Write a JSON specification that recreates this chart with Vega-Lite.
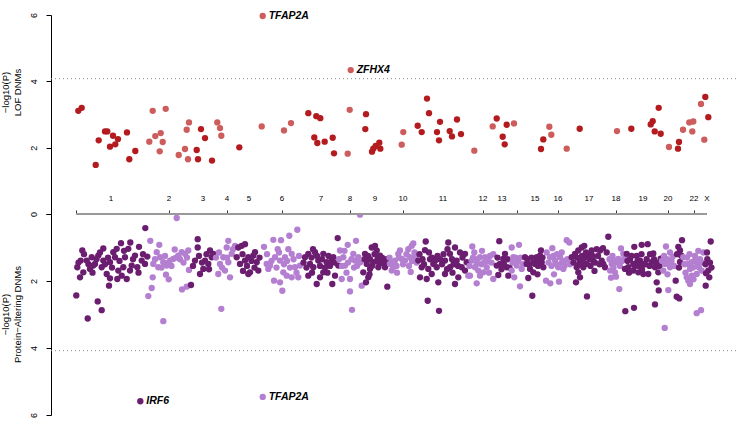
{
  "$schema": "https://vega.github.io/schema/vega-lite/v6.json",
  "padding": {"left": 0, "top": 10, "right": 0, "bottom": 0},
  "bounds": "flush",
  "spacing": 0,
  "config": {
    "view": {"stroke": null},
    "font": "Liberation Sans",
    "axis": {"grid": false, "labelColor": "#000", "titleColor": "#000", "domainColor": "#000", "tickColor": "#000", "titleFontWeight": "normal", "labelFont": "Liberation Sans", "titleFont": "Liberation Sans"}
  },
  "resolve": {"scale": {"x": "independent", "y": "independent", "color": "independent"}},
  "datasets": {
    "threshold": [{"thr": 4.08}],
    "chrline": [{"start": 76, "end": 707, "base": 0}],
    "chroms": [
      {"chr":"1","mid":111},{"chr":"2","mid":169},{"chr":"3","mid":203},{"chr":"4","mid":227},{"chr":"5","mid":249},{"chr":"6","mid":282},{"chr":"7","mid":321},{"chr":"8","mid":350},{"chr":"9","mid":375},{"chr":"10","mid":403},{"chr":"11","mid":443},{"chr":"12","mid":483},{"chr":"13","mid":502},{"chr":"15","mid":535},{"chr":"16","mid":558},{"chr":"17","mid":589},{"chr":"18","mid":616},{"chr":"19","mid":643},{"chr":"20","mid":668},{"chr":"22","mid":694},{"chr":"X","mid":707}
    ],
    "lof": [
      {"pos":78.3,"p":3.11,"s":"d"},{"pos":81.7,"p":3.20,"s":"d"},{"pos":95.7,"p":1.48,"s":"d"},{"pos":98.7,"p":2.22,"s":"d"},{"pos":105,"p":2.49,"s":"d"},{"pos":107.3,"p":2.49,"s":"d"},{"pos":110,"p":2.03,"s":"d"},{"pos":113,"p":2.36,"s":"d"},{"pos":115.3,"p":2.10,"s":"d"},{"pos":118,"p":2.26,"s":"d"},{"pos":127,"p":2.46,"s":"d"},{"pos":129.3,"p":1.65,"s":"d"},{"pos":135.3,"p":1.90,"s":"d"},
      {"pos":149.3,"p":2.18,"s":"l"},{"pos":152.7,"p":3.11,"s":"l"},{"pos":155.3,"p":2.35,"s":"l"},{"pos":159.7,"p":1.89,"s":"l"},{"pos":160.7,"p":2.44,"s":"l"},{"pos":162.7,"p":2.17,"s":"l"},{"pos":165.7,"p":3.17,"s":"l"},{"pos":178.7,"p":1.78,"s":"l"},{"pos":185,"p":1.96,"s":"l"},{"pos":186.7,"p":2.54,"s":"l"},{"pos":188,"p":1.65,"s":"l"},{"pos":189,"p":2.76,"s":"l"},
      {"pos":196.7,"p":1.93,"s":"d"},{"pos":198,"p":1.65,"s":"d"},{"pos":201,"p":2.56,"s":"d"},{"pos":205,"p":2.29,"s":"d"},{"pos":212,"p":1.61,"s":"d"},
      {"pos":217.3,"p":2.76,"s":"l"},{"pos":220,"p":2.59,"s":"l"},{"pos":221.3,"p":2.36,"s":"l"},
      {"pos":239.3,"p":2.01,"s":"d"},
      {"pos":262.7,"p":5.97,"s":"l","gene":"TFAP2A"},{"pos":261.7,"p":2.64,"s":"l"},{"pos":284,"p":2.52,"s":"l"},{"pos":291,"p":2.74,"s":"l"},
      {"pos":308.3,"p":3.04,"s":"d"},{"pos":314.3,"p":2.31,"s":"d"},{"pos":316.3,"p":2.95,"s":"d"},{"pos":317.3,"p":2.14,"s":"d"},{"pos":320.3,"p":2.89,"s":"d"},{"pos":324.7,"p":2.18,"s":"d"},{"pos":332.7,"p":2.30,"s":"d"},{"pos":334,"p":1.83,"s":"d"},
      {"pos":347.7,"p":1.82,"s":"l"},{"pos":349.7,"p":3.14,"s":"l"},{"pos":350.7,"p":4.34,"s":"l","gene":"ZFHX4"},
      {"pos":365.3,"p":2.56,"s":"d"},{"pos":366,"p":3.01,"s":"d"},{"pos":372,"p":1.88,"s":"d"},{"pos":373.3,"p":1.97,"s":"d"},{"pos":375.7,"p":2.05,"s":"d"},{"pos":379.3,"p":2.15,"s":"d"},{"pos":380.3,"p":1.97,"s":"d"},
      {"pos":401.7,"p":2.09,"s":"l"},{"pos":403.3,"p":2.47,"s":"l"},
      {"pos":417.7,"p":2.66,"s":"d"},{"pos":421.7,"p":2.47,"s":"d"},{"pos":427,"p":3.48,"s":"d"},{"pos":429,"p":3.04,"s":"d"},{"pos":437,"p":2.47,"s":"d"},{"pos":439,"p":2.22,"s":"d"},{"pos":440,"p":2.78,"s":"d"},{"pos":449.7,"p":2.50,"s":"d"},{"pos":452,"p":2.34,"s":"d"},{"pos":457,"p":2.85,"s":"d"},{"pos":461,"p":2.41,"s":"d"},
      {"pos":474.3,"p":1.91,"s":"l"},{"pos":492.7,"p":2.64,"s":"l"},
      {"pos":496.7,"p":2.88,"s":"d"},{"pos":502.7,"p":2.33,"s":"d"},{"pos":504.7,"p":2.10,"s":"d"},{"pos":506.7,"p":2.69,"s":"d"},
      {"pos":514,"p":2.73,"s":"l"},
      {"pos":541,"p":1.96,"s":"d"},{"pos":543.3,"p":2.25,"s":"d"},
      {"pos":549.3,"p":2.63,"s":"l"},{"pos":551.3,"p":2.39,"s":"l"},{"pos":566.7,"p":1.97,"s":"l"},
      {"pos":579.7,"p":2.57,"s":"d"},
      {"pos":617,"p":2.50,"s":"l"},
      {"pos":631.3,"p":2.57,"s":"d"},{"pos":650.7,"p":2.70,"s":"d"},{"pos":652.7,"p":2.80,"s":"d"},{"pos":654.7,"p":2.49,"s":"d"},{"pos":658.7,"p":3.20,"s":"d"},{"pos":660.7,"p":2.42,"s":"d"},
      {"pos":669,"p":2.02,"s":"l"},
      {"pos":678,"p":1.97,"s":"d"},{"pos":679,"p":2.17,"s":"d"},
      {"pos":683,"p":2.54,"s":"l"},{"pos":689.3,"p":2.76,"s":"l"},{"pos":693.3,"p":2.79,"s":"l"},{"pos":692.3,"p":2.49,"s":"l"},{"pos":701,"p":3.32,"s":"l"},{"pos":704.3,"p":2.24,"s":"l"},
      {"pos":705.3,"p":3.53,"s":"d"},{"pos":708.3,"p":2.92,"s":"d"}
    ],
    "pa": [
      {"pos":145.3,"p":0.42,"s":"d"},{"pos":76.3,"p":2.43,"s":"d"},{"pos":97.7,"p":2.61,"s":"d"},{"pos":101.7,"p":2.87,"s":"d"},{"pos":87.7,"p":3.12,"s":"d"},{"pos":109,"p":2.14,"s":"d"},{"pos":82.3,"p":1.09,"s":"d"},{"pos":103.3,"p":1.03,"s":"d"},{"pos":121,"p":0.87,"s":"d"},{"pos":130.3,"p":0.85,"s":"d"},{"pos":139,"p":0.98,"s":"d"},{"pos":77.3,"p":1.59,"s":"d"},{"pos":80,"p":1.89,"s":"d"},{"pos":83.3,"p":1.74,"s":"d"},{"pos":86.7,"p":1.39,"s":"d"},{"pos":91.7,"p":1.29,"s":"d"},{"pos":95,"p":1.49,"s":"d"},{"pos":98.3,"p":1.24,"s":"d"},{"pos":101.7,"p":1.59,"s":"d"},{"pos":106.7,"p":1.79,"s":"d"},{"pos":110,"p":1.44,"s":"d"},{"pos":113.3,"p":1.14,"s":"d"},{"pos":115,"p":1.29,"s":"d"},{"pos":118.3,"p":1.69,"s":"d"},{"pos":121.7,"p":1.84,"s":"d"},{"pos":125,"p":1.29,"s":"d"},{"pos":126.7,"p":1.94,"s":"d"},{"pos":128.3,"p":1.04,"s":"d"},{"pos":131.7,"p":1.54,"s":"d"},{"pos":135,"p":1.24,"s":"d"},{"pos":137.3,"p":1.59,"s":"d"},{"pos":141.7,"p":1.39,"s":"d"},{"pos":145,"p":1.49,"s":"d"},{"pos":147.3,"p":1.27,"s":"d"},{"pos":116.7,"p":1.04,"s":"d"},{"pos":93.3,"p":1.54,"s":"d"},{"pos":80.7,"p":1.39,"s":"d"},{"pos":90,"p":1.64,"s":"d"},{"pos":103.3,"p":1.39,"s":"d"},{"pos":123.3,"p":1.59,"s":"d"},{"pos":130,"p":1.69,"s":"d"},{"pos":110,"p":1.92,"s":"d"},{"pos":117.3,"p":1.94,"s":"d"},
      {"pos":78.5,"p":1.45,"s":"d"},{"pos":84,"p":1.2,"s":"d"},{"pos":88.5,"p":1.5,"s":"d"},{"pos":92.5,"p":1.75,"s":"d"},{"pos":96.5,"p":1.35,"s":"d"},{"pos":100,"p":1.15,"s":"d"},{"pos":105,"p":1.5,"s":"d"},{"pos":108,"p":1.3,"s":"d"},{"pos":112,"p":1.6,"s":"d"},{"pos":119.5,"p":1.4,"s":"d"},{"pos":124,"p":1.1,"s":"d"},{"pos":133,"p":1.35,"s":"d"},{"pos":138.5,"p":1.75,"s":"d"},{"pos":143,"p":1.2,"s":"d"},
      {"pos":140.3,"p":5.59,"s":"d","gene":"IRF6"},
      {"pos":176.7,"p":0.12,"s":"l"},{"pos":150.3,"p":0.8,"s":"l"},{"pos":159.3,"p":0.92,"s":"l"},{"pos":174.7,"p":1.06,"s":"l"},{"pos":153.3,"p":1.49,"s":"l"},{"pos":158.3,"p":1.59,"s":"l"},{"pos":163.3,"p":1.44,"s":"l"},{"pos":166.7,"p":1.54,"s":"l"},{"pos":170,"p":1.39,"s":"l"},{"pos":173.3,"p":1.34,"s":"l"},{"pos":178.3,"p":1.24,"s":"l"},{"pos":181.7,"p":1.14,"s":"l"},{"pos":185,"p":1.19,"s":"l"},{"pos":188.3,"p":1.09,"s":"l"},{"pos":152.7,"p":1.89,"s":"l"},{"pos":151.7,"p":2.21,"s":"l"},{"pos":148.3,"p":2.45,"s":"l"},{"pos":166,"p":1.81,"s":"l"},{"pos":168.7,"p":1.95,"s":"l"},{"pos":163.3,"p":3.2,"s":"l"},{"pos":182,"p":2.25,"s":"l"},{"pos":186.7,"p":2.17,"s":"l"},{"pos":189,"p":1.67,"s":"l"},{"pos":160,"p":1.29,"s":"l"},{"pos":156.7,"p":1.14,"s":"l"},
      {"pos":155,"p":1.35,"s":"l"},{"pos":161.5,"p":1.6,"s":"l"},{"pos":165,"p":1.25,"s":"l"},{"pos":168.5,"p":1.45,"s":"l"},{"pos":171.5,"p":1.55,"s":"l"},{"pos":176,"p":1.3,"s":"l"},{"pos":180,"p":1.35,"s":"l"},{"pos":183.5,"p":1.45,"s":"l"},{"pos":187,"p":1.3,"s":"l"},
      {"pos":191,"p":2.12,"s":"d"},{"pos":197.7,"p":0.75,"s":"d"},{"pos":197.7,"p":1.0,"s":"d"},{"pos":195,"p":1.39,"s":"d"},{"pos":200,"p":1.79,"s":"d"},{"pos":203.3,"p":1.64,"s":"d"},{"pos":208.3,"p":1.49,"s":"d"},{"pos":210,"p":1.09,"s":"d"},{"pos":211.7,"p":1.29,"s":"d"},{"pos":213.3,"p":1.19,"s":"d"},{"pos":205,"p":1.39,"s":"d"},
      {"pos":193,"p":1.55,"s":"d"},{"pos":199,"p":1.25,"s":"d"},{"pos":202,"p":1.45,"s":"d"},{"pos":206.5,"p":1.2,"s":"d"},{"pos":209,"p":1.65,"s":"d"},
      {"pos":228.3,"p":0.8,"s":"l"},{"pos":226.7,"p":1.0,"s":"l"},{"pos":223.3,"p":1.29,"s":"l"},{"pos":220,"p":1.49,"s":"l"},{"pos":218.3,"p":1.79,"s":"l"},{"pos":225,"p":1.69,"s":"l"},{"pos":230,"p":1.89,"s":"l"},{"pos":231.7,"p":1.19,"s":"l"},{"pos":235,"p":0.95,"s":"l"},{"pos":221.3,"p":2.83,"s":"l"},{"pos":228.3,"p":1.44,"s":"l"},
      {"pos":216,"p":1.3,"s":"l"},{"pos":219,"p":1.15,"s":"l"},{"pos":222,"p":1.6,"s":"l"},{"pos":227,"p":1.3,"s":"l"},{"pos":233,"p":1.05,"s":"l"},
      {"pos":236.7,"p":1.29,"s":"d"},{"pos":238.3,"p":1.0,"s":"d"},{"pos":241.7,"p":0.95,"s":"d"},{"pos":245,"p":0.9,"s":"d"},{"pos":240,"p":1.49,"s":"d"},{"pos":245,"p":1.39,"s":"d"},{"pos":248.3,"p":1.29,"s":"d"},{"pos":250,"p":1.74,"s":"d"},{"pos":253.3,"p":1.24,"s":"d"},{"pos":256.7,"p":1.44,"s":"d"},{"pos":258.3,"p":1.69,"s":"d"},{"pos":248.3,"p":1.79,"s":"d"},{"pos":255,"p":1.14,"s":"d"},
      {"pos":242.5,"p":1.2,"s":"d"},{"pos":247,"p":1.55,"s":"d"},{"pos":251.5,"p":1.4,"s":"d"},{"pos":254.5,"p":1.6,"s":"d"},{"pos":259.5,"p":1.3,"s":"d"},{"pos":243,"p":1.7,"s":"d"},
      {"pos":264,"p":0.98,"s":"l"},{"pos":266.7,"p":1.49,"s":"l"},{"pos":268.3,"p":1.64,"s":"l"},{"pos":273.3,"p":0.77,"s":"l"},{"pos":281,"p":0.78,"s":"l"},{"pos":289.3,"p":0.65,"s":"l"},{"pos":297.3,"p":0.47,"s":"l"},{"pos":277.7,"p":1.05,"s":"l"},{"pos":288.3,"p":1.05,"s":"l"},{"pos":275,"p":1.29,"s":"l"},{"pos":280,"p":1.39,"s":"l"},{"pos":285,"p":1.29,"s":"l"},{"pos":291.7,"p":1.19,"s":"l"},{"pos":283.3,"p":1.74,"s":"l"},{"pos":286.7,"p":1.84,"s":"l"},{"pos":291.7,"p":1.89,"s":"l"},{"pos":298.3,"p":1.89,"s":"l"},{"pos":274,"p":1.99,"s":"l"},{"pos":280,"p":2.04,"s":"l"},{"pos":282.3,"p":2.29,"s":"l"},{"pos":295,"p":1.59,"s":"l"},{"pos":300,"p":1.54,"s":"l"},{"pos":270,"p":1.54,"s":"l"},
      {"pos":267,"p":1.2,"s":"l"},{"pos":271.5,"p":1.4,"s":"l"},{"pos":276.5,"p":1.6,"s":"l"},{"pos":279,"p":1.15,"s":"l"},{"pos":284,"p":1.5,"s":"l"},{"pos":287,"p":1.4,"s":"l"},{"pos":290,"p":1.6,"s":"l"},{"pos":293.5,"p":1.35,"s":"l"},{"pos":296.5,"p":1.75,"s":"l"},{"pos":299,"p":1.25,"s":"l"},
      {"pos":262.7,"p":5.46,"s":"l","gene":"TFAP2A"},
      {"pos":305,"p":1.29,"s":"d"},{"pos":310,"p":1.49,"s":"d"},{"pos":308.3,"p":1.19,"s":"d"},{"pos":315,"p":1.14,"s":"d"},{"pos":318.3,"p":1.39,"s":"d"},{"pos":323.3,"p":1.19,"s":"d"},{"pos":326.7,"p":1.44,"s":"d"},{"pos":313.3,"p":1.59,"s":"d"},{"pos":308.3,"p":1.84,"s":"d"},{"pos":320,"p":1.89,"s":"d"},{"pos":316.7,"p":2.09,"s":"d"},{"pos":323.3,"p":1.74,"s":"d"},{"pos":331.7,"p":1.39,"s":"d"},{"pos":332.3,"p":2.09,"s":"d"},{"pos":333.3,"p":1.29,"s":"d"},{"pos":338.3,"p":1.54,"s":"d"},{"pos":337.7,"p":0.72,"s":"d"},{"pos":335,"p":1.84,"s":"d"},
      {"pos":303.5,"p":1.45,"s":"d"},{"pos":306.5,"p":1.6,"s":"d"},{"pos":311.5,"p":1.3,"s":"d"},{"pos":313,"p":1.05,"s":"d"},{"pos":317,"p":1.25,"s":"d"},{"pos":320,"p":1.55,"s":"d"},{"pos":322,"p":1.35,"s":"d"},{"pos":325,"p":1.6,"s":"d"},{"pos":328.5,"p":1.25,"s":"d"},{"pos":330,"p":1.55,"s":"d"},{"pos":334.5,"p":1.45,"s":"d"},{"pos":327.5,"p":1.75,"s":"d"},{"pos":312,"p":1.75,"s":"d"},
      {"pos":360,"p":0.02,"s":"l"},{"pos":356,"p":0.8,"s":"l"},{"pos":347.7,"p":0.92,"s":"l"},{"pos":340,"p":1.09,"s":"l"},{"pos":343.3,"p":1.29,"s":"l"},{"pos":345,"p":1.54,"s":"l"},{"pos":353.3,"p":1.19,"s":"l"},{"pos":355,"p":1.39,"s":"l"},{"pos":358.3,"p":1.29,"s":"l"},{"pos":350,"p":1.94,"s":"l"},{"pos":341.7,"p":1.94,"s":"l"},{"pos":350,"p":2.31,"s":"l"},{"pos":361.7,"p":2.14,"s":"l"},{"pos":352,"p":2.86,"s":"l"},
      {"pos":339,"p":1.35,"s":"l"},{"pos":342,"p":1.55,"s":"l"},{"pos":344.5,"p":1.1,"s":"l"},{"pos":348,"p":1.45,"s":"l"},{"pos":351.5,"p":1.35,"s":"l"},{"pos":354,"p":1.6,"s":"l"},{"pos":357,"p":1.55,"s":"l"},{"pos":360,"p":1.45,"s":"l"},{"pos":346.5,"p":1.75,"s":"l"},
      {"pos":365,"p":1.19,"s":"d"},{"pos":366.7,"p":1.49,"s":"d"},{"pos":363.3,"p":1.74,"s":"d"},{"pos":368.3,"p":1.89,"s":"d"},{"pos":366,"p":2.04,"s":"d"},{"pos":371.7,"p":1.0,"s":"d"},{"pos":375,"p":0.95,"s":"d"},{"pos":376.7,"p":1.09,"s":"d"},{"pos":380,"p":1.24,"s":"d"},{"pos":383.3,"p":1.39,"s":"d"},{"pos":373.3,"p":1.44,"s":"d"},{"pos":378.3,"p":1.59,"s":"d"},{"pos":385,"p":1.59,"s":"d"},{"pos":387.3,"p":2.17,"s":"d"},{"pos":370,"p":1.64,"s":"d"},{"pos":381.7,"p":1.44,"s":"d"},
      {"pos":364.5,"p":1.35,"s":"d"},{"pos":368,"p":1.25,"s":"d"},{"pos":370,"p":1.35,"s":"d"},{"pos":372,"p":1.55,"s":"d"},{"pos":374.5,"p":1.2,"s":"d"},{"pos":377.5,"p":1.35,"s":"d"},{"pos":379,"p":1.45,"s":"d"},{"pos":382,"p":1.3,"s":"d"},{"pos":384,"p":1.5,"s":"d"},{"pos":386.5,"p":1.35,"s":"d"},{"pos":369.5,"p":1.8,"s":"d"},
      {"pos":390,"p":1.49,"s":"l"},{"pos":391.7,"p":1.69,"s":"l"},{"pos":395,"p":1.39,"s":"l"},{"pos":398.3,"p":1.19,"s":"l"},{"pos":400,"p":1.09,"s":"l"},{"pos":401.7,"p":1.34,"s":"l"},{"pos":408.3,"p":1.05,"s":"l"},{"pos":411.7,"p":0.95,"s":"l"},{"pos":413.3,"p":0.88,"s":"l"},{"pos":405,"p":1.39,"s":"l"},{"pos":410,"p":1.29,"s":"l"},{"pos":415,"p":1.29,"s":"l"},{"pos":410.7,"p":1.73,"s":"l"},{"pos":393.3,"p":1.59,"s":"l"},
      {"pos":389.5,"p":1.3,"s":"l"},{"pos":392.5,"p":1.45,"s":"l"},{"pos":396.5,"p":1.55,"s":"l"},{"pos":399,"p":1.3,"s":"l"},{"pos":403,"p":1.5,"s":"l"},{"pos":406.5,"p":1.2,"s":"l"},{"pos":409,"p":1.55,"s":"l"},{"pos":412,"p":1.4,"s":"l"},{"pos":414.5,"p":1.15,"s":"l"},{"pos":416.5,"p":1.45,"s":"l"},{"pos":397,"p":1.75,"s":"l"},
      {"pos":425.7,"p":0.82,"s":"d"},{"pos":425,"p":1.08,"s":"d"},{"pos":418.3,"p":1.39,"s":"d"},{"pos":421.7,"p":1.59,"s":"d"},{"pos":420,"p":1.89,"s":"d"},{"pos":426.7,"p":1.94,"s":"d"},{"pos":430,"p":1.35,"s":"d"},{"pos":433.3,"p":1.49,"s":"d"},{"pos":428.3,"p":1.64,"s":"d"},{"pos":431.7,"p":1.79,"s":"d"},{"pos":438.3,"p":2.04,"s":"d"},{"pos":427.7,"p":2.59,"s":"d"},{"pos":439,"p":2.89,"s":"d"},{"pos":440,"p":1.35,"s":"d"},{"pos":445,"p":1.39,"s":"d"},{"pos":448.3,"p":0.85,"s":"d"},{"pos":450,"p":1.19,"s":"d"},{"pos":455,"p":1.0,"s":"d"},{"pos":456.7,"p":1.39,"s":"d"},{"pos":460,"p":1.15,"s":"d"},{"pos":461.7,"p":1.59,"s":"d"},{"pos":458.3,"p":1.89,"s":"d"},{"pos":455,"p":2.09,"s":"d"},{"pos":466.7,"p":1.44,"s":"d"},{"pos":465,"p":1.69,"s":"d"},{"pos":445,"p":1.79,"s":"d"},{"pos":450,"p":1.59,"s":"d"},{"pos":436.7,"p":1.59,"s":"d"},{"pos":465,"p":1.19,"s":"d"},
      {"pos":419.5,"p":1.2,"s":"d"},{"pos":422.5,"p":1.35,"s":"d"},{"pos":424,"p":1.5,"s":"d"},{"pos":429,"p":1.15,"s":"d"},{"pos":432,"p":1.3,"s":"d"},{"pos":435,"p":1.4,"s":"d"},{"pos":437.5,"p":1.25,"s":"d"},{"pos":442,"p":1.5,"s":"d"},{"pos":443.5,"p":1.2,"s":"d"},{"pos":447,"p":1.65,"s":"d"},{"pos":452,"p":1.35,"s":"d"},{"pos":453.5,"p":1.5,"s":"d"},{"pos":458,"p":1.55,"s":"d"},{"pos":462.5,"p":1.3,"s":"d"},{"pos":447.5,"p":1.05,"s":"d"},{"pos":452.5,"p":1.75,"s":"d"},
      {"pos":468.3,"p":1.84,"s":"l"},{"pos":472.3,"p":0.97,"s":"l"},{"pos":474.3,"p":1.15,"s":"l"},{"pos":471.7,"p":1.39,"s":"l"},{"pos":476.7,"p":1.49,"s":"l"},{"pos":480,"p":1.29,"s":"l"},{"pos":485,"p":1.29,"s":"l"},{"pos":490,"p":1.25,"s":"l"},{"pos":493.3,"p":1.2,"s":"l"},{"pos":478.3,"p":1.69,"s":"l"},{"pos":483.3,"p":1.74,"s":"l"},{"pos":480,"p":1.84,"s":"l"},{"pos":470,"p":1.84,"s":"l"},{"pos":476.7,"p":2.07,"s":"l"},{"pos":486.7,"p":1.59,"s":"l"},{"pos":493.3,"p":1.94,"s":"l"},{"pos":475,"p":1.59,"s":"l"},
      {"pos":469.5,"p":1.55,"s":"l"},{"pos":473,"p":1.3,"s":"l"},{"pos":477.5,"p":1.35,"s":"l"},{"pos":481.5,"p":1.5,"s":"l"},{"pos":484,"p":1.45,"s":"l"},{"pos":488,"p":1.4,"s":"l"},{"pos":491.5,"p":1.45,"s":"l"},{"pos":482,"p":1.1,"s":"l"},{"pos":489,"p":1.75,"s":"l"},
      {"pos":499.3,"p":0.81,"s":"d"},{"pos":498.3,"p":1.82,"s":"d"},{"pos":500,"p":1.49,"s":"d"},{"pos":503.3,"p":1.34,"s":"d"},{"pos":505,"p":1.19,"s":"d"},{"pos":506.7,"p":1.59,"s":"d"},{"pos":508.3,"p":1.84,"s":"d"},{"pos":496.7,"p":1.54,"s":"d"},
      {"pos":497.5,"p":1.3,"s":"d"},{"pos":501.5,"p":1.65,"s":"d"},{"pos":504,"p":1.5,"s":"d"},{"pos":507.5,"p":1.35,"s":"d"},{"pos":509.5,"p":1.6,"s":"d"},
      {"pos":511.7,"p":1.0,"s":"l"},{"pos":519,"p":0.92,"s":"l"},{"pos":513.3,"p":1.29,"s":"l"},{"pos":516.7,"p":1.54,"s":"l"},{"pos":511.7,"p":1.69,"s":"l"},{"pos":514.3,"p":1.89,"s":"l"},{"pos":520,"p":2.16,"s":"l"},{"pos":521.7,"p":1.64,"s":"l"},
      {"pos":512.5,"p":1.45,"s":"l"},{"pos":515.5,"p":1.3,"s":"l"},{"pos":518,"p":1.4,"s":"l"},{"pos":520.5,"p":1.3,"s":"l"},{"pos":523,"p":1.5,"s":"l"},
      {"pos":525,"p":1.29,"s":"d"},{"pos":526.7,"p":1.49,"s":"d"},{"pos":530,"p":1.64,"s":"d"},{"pos":528.3,"p":1.91,"s":"d"},{"pos":532.3,"p":2.44,"s":"d"},{"pos":533.3,"p":1.74,"s":"d"},{"pos":536.7,"p":1.29,"s":"d"},{"pos":540,"p":1.24,"s":"d"},{"pos":541.7,"p":1.44,"s":"d"},{"pos":541,"p":1.09,"s":"d"},{"pos":535,"p":1.49,"s":"d"},{"pos":543.3,"p":1.59,"s":"d"},
      {"pos":527.5,"p":1.35,"s":"d"},{"pos":529.5,"p":1.5,"s":"d"},{"pos":531.5,"p":1.3,"s":"d"},{"pos":534,"p":1.4,"s":"d"},{"pos":538,"p":1.55,"s":"d"},{"pos":539,"p":1.4,"s":"d"},{"pos":542.5,"p":1.3,"s":"d"},{"pos":537.5,"p":1.8,"s":"d"},
      {"pos":546.7,"p":1.15,"s":"l"},{"pos":552.3,"p":1.02,"s":"l"},{"pos":550,"p":1.29,"s":"l"},{"pos":555,"p":1.39,"s":"l"},{"pos":560,"p":1.29,"s":"l"},{"pos":561.7,"p":1.15,"s":"l"},{"pos":558.3,"p":1.59,"s":"l"},{"pos":563.3,"p":1.64,"s":"l"},{"pos":546,"p":1.99,"s":"l"},{"pos":550.3,"p":2.07,"s":"l"},{"pos":559,"p":2.02,"s":"l"},{"pos":566.7,"p":0.78,"s":"l"},{"pos":569.3,"p":0.85,"s":"l"},{"pos":565,"p":1.39,"s":"l"},
      {"pos":548.5,"p":1.45,"s":"l"},{"pos":551.5,"p":1.55,"s":"l"},{"pos":553.5,"p":1.25,"s":"l"},{"pos":556.5,"p":1.5,"s":"l"},{"pos":557,"p":1.2,"s":"l"},{"pos":562,"p":1.45,"s":"l"},{"pos":564.5,"p":1.55,"s":"l"},{"pos":567.5,"p":1.35,"s":"l"},{"pos":570,"p":1.5,"s":"l"},{"pos":554,"p":1.8,"s":"l"},
      {"pos":571.7,"p":1.29,"s":"d"},{"pos":575,"p":1.19,"s":"d"},{"pos":578.3,"p":1.09,"s":"d"},{"pos":581.7,"p":1.0,"s":"d"},{"pos":584.3,"p":0.95,"s":"d"},{"pos":580,"p":1.39,"s":"d"},{"pos":576.7,"p":1.59,"s":"d"},{"pos":578.3,"p":1.74,"s":"d"},{"pos":580,"p":1.89,"s":"d"},{"pos":576,"p":2.04,"s":"d"},{"pos":585,"p":1.29,"s":"d"},{"pos":588.3,"p":1.19,"s":"d"},{"pos":591.7,"p":1.09,"s":"d"},{"pos":593.3,"p":1.39,"s":"d"},{"pos":596.7,"p":1.05,"s":"d"},{"pos":600,"p":1.09,"s":"d"},{"pos":601.7,"p":1.39,"s":"d"},{"pos":587,"p":2.46,"s":"d"},{"pos":586.7,"p":1.49,"s":"d"},{"pos":583.3,"p":1.59,"s":"d"},{"pos":608.3,"p":0.68,"s":"d"},{"pos":603,"p":1.02,"s":"d"},{"pos":606.7,"p":1.15,"s":"d"},{"pos":603.3,"p":1.49,"s":"d"},{"pos":605,"p":1.59,"s":"d"},
      {"pos":573.5,"p":1.45,"s":"d"},{"pos":577,"p":1.3,"s":"d"},{"pos":579,"p":1.5,"s":"d"},{"pos":582,"p":1.25,"s":"d"},{"pos":583.5,"p":1.45,"s":"d"},{"pos":586,"p":1.15,"s":"d"},{"pos":589.5,"p":1.35,"s":"d"},{"pos":590.5,"p":1.55,"s":"d"},{"pos":592.5,"p":1.25,"s":"d"},{"pos":595,"p":1.45,"s":"d"},{"pos":598,"p":1.25,"s":"d"},{"pos":599.5,"p":1.5,"s":"d"},{"pos":594.5,"p":1.7,"s":"d"},
      {"pos":621,"p":1.03,"s":"l"},{"pos":623.3,"p":1.19,"s":"l"},{"pos":615,"p":1.39,"s":"l"},{"pos":618.3,"p":1.34,"s":"l"},{"pos":611.7,"p":1.49,"s":"l"},{"pos":610,"p":1.69,"s":"l"},{"pos":615,"p":1.74,"s":"l"},{"pos":616,"p":1.87,"s":"l"},{"pos":619.3,"p":2.24,"s":"l"},
      {"pos":609.5,"p":1.35,"s":"l"},{"pos":612.5,"p":1.25,"s":"l"},{"pos":613.5,"p":1.6,"s":"l"},{"pos":617,"p":1.45,"s":"l"},{"pos":620,"p":1.55,"s":"l"},{"pos":622,"p":1.4,"s":"l"},{"pos":624.5,"p":1.3,"s":"l"},{"pos":611,"p":1.9,"s":"l"},
      {"pos":626.7,"p":1.19,"s":"d"},{"pos":634.3,"p":0.98,"s":"d"},{"pos":641.7,"p":0.92,"s":"d"},{"pos":647.7,"p":0.9,"s":"d"},{"pos":630,"p":1.35,"s":"d"},{"pos":633.3,"p":1.49,"s":"d"},{"pos":636.7,"p":1.25,"s":"d"},{"pos":640,"p":1.39,"s":"d"},{"pos":643.3,"p":1.49,"s":"d"},{"pos":646.7,"p":1.35,"s":"d"},{"pos":625,"p":1.64,"s":"d"},{"pos":628.3,"p":1.59,"s":"d"},{"pos":633.3,"p":1.69,"s":"d"},{"pos":638.3,"p":1.74,"s":"d"},{"pos":643.3,"p":1.79,"s":"d"},{"pos":648.3,"p":1.79,"s":"d"},{"pos":651.7,"p":1.44,"s":"d"},{"pos":653.3,"p":1.18,"s":"d"},{"pos":655,"p":1.59,"s":"d"},{"pos":658.3,"p":1.74,"s":"d"},{"pos":660.7,"p":1.33,"s":"d"},{"pos":656.7,"p":2.04,"s":"d"},{"pos":658.7,"p":2.28,"s":"d"},{"pos":655,"p":2.7,"s":"d"},{"pos":634,"p":2.8,"s":"d"},{"pos":625.3,"p":2.9,"s":"d"},
      {"pos":627.5,"p":1.4,"s":"d"},{"pos":629,"p":1.75,"s":"d"},{"pos":631.5,"p":1.25,"s":"d"},{"pos":635,"p":1.55,"s":"d"},{"pos":637.5,"p":1.4,"s":"d"},{"pos":639,"p":1.55,"s":"d"},{"pos":641.5,"p":1.2,"s":"d"},{"pos":642,"p":1.65,"s":"d"},{"pos":645,"p":1.5,"s":"d"},{"pos":649.5,"p":1.55,"s":"d"},{"pos":650,"p":1.2,"s":"d"},{"pos":654,"p":1.35,"s":"d"},{"pos":657,"p":1.45,"s":"d"},{"pos":659.5,"p":1.55,"s":"d"},
      {"pos":666,"p":0.97,"s":"l"},{"pos":670,"p":1.15,"s":"l"},{"pos":672.7,"p":1.27,"s":"l"},{"pos":665,"p":1.49,"s":"l"},{"pos":670,"p":1.59,"s":"l"},{"pos":663.3,"p":1.69,"s":"l"},{"pos":668.3,"p":2.27,"s":"l"},{"pos":664.7,"p":3.4,"s":"l"},
      {"pos":662,"p":1.4,"s":"l"},{"pos":664,"p":1.25,"s":"l"},{"pos":667,"p":1.35,"s":"l"},{"pos":669,"p":1.5,"s":"l"},{"pos":671.5,"p":1.4,"s":"l"},{"pos":674,"p":1.55,"s":"l"},{"pos":667.5,"p":1.8,"s":"l"},
      {"pos":682,"p":0.78,"s":"d"},{"pos":678.3,"p":0.98,"s":"d"},{"pos":680,"p":1.09,"s":"d"},{"pos":680,"p":1.43,"s":"d"},{"pos":675.7,"p":1.99,"s":"d"},{"pos":676.7,"p":2.47,"s":"d"},{"pos":679.3,"p":2.52,"s":"d"},
      {"pos":677,"p":1.2,"s":"d"},{"pos":681.5,"p":1.25,"s":"d"},{"pos":679,"p":1.6,"s":"d"},
      {"pos":683.3,"p":1.29,"s":"l"},{"pos":688.3,"p":1.49,"s":"l"},{"pos":690,"p":1.64,"s":"l"},{"pos":686.7,"p":1.89,"s":"l"},{"pos":691.7,"p":1.44,"s":"l"},{"pos":695,"p":1.25,"s":"l"},{"pos":698.3,"p":1.1,"s":"l"},{"pos":700,"p":1.35,"s":"l"},{"pos":703.3,"p":1.15,"s":"l"},{"pos":691.7,"p":1.84,"s":"l"},{"pos":696.7,"p":1.79,"s":"l"},{"pos":701.7,"p":1.69,"s":"l"},{"pos":688.3,"p":1.99,"s":"l"},{"pos":690,"p":2.09,"s":"l"},{"pos":696.7,"p":2.96,"s":"l"},{"pos":701,"p":2.87,"s":"l"},
      {"pos":684.5,"p":1.5,"s":"l"},{"pos":685.5,"p":1.75,"s":"l"},{"pos":687,"p":1.3,"s":"l"},{"pos":689.5,"p":1.2,"s":"l"},{"pos":693,"p":1.6,"s":"l"},{"pos":694.5,"p":1.4,"s":"l"},{"pos":697.5,"p":1.5,"s":"l"},{"pos":699,"p":1.6,"s":"l"},{"pos":702,"p":1.45,"s":"l"},{"pos":693.5,"p":1.95,"s":"l"},
      {"pos":710.7,"p":0.82,"s":"d"},{"pos":707.3,"p":1.35,"s":"d"},{"pos":708.3,"p":1.69,"s":"d"},{"pos":706,"p":1.77,"s":"d"},{"pos":709.3,"p":1.89,"s":"d"},{"pos":705.7,"p":2.14,"s":"d"},
      {"pos":705.5,"p":1.5,"s":"d"},{"pos":707,"p":1.15,"s":"d"},{"pos":710,"p":1.45,"s":"d"},{"pos":711.5,"p":1.6,"s":"d"}
    ]
  },
  "vconcat": [
    {
      "width": 685,
      "height": 199,
      "layer": [
        {
          "data": {"name": "threshold"},
          "mark": {"type": "rule", "strokeDash": [1, 3], "color": "#888888", "strokeWidth": 1},
          "encoding": {"y": {"field": "thr", "type": "quantitative", "scale": {"domain": [0, 6], "nice": false, "zero": false}}}
        },
        {
          "data": {"name": "lof"},
          "mark": {"type": "circle", "size": 40, "opacity": 1},
          "encoding": {
            "x": {"field": "pos", "type": "quantitative", "scale": {"domain": [51, 736], "nice": false, "zero": false}, "axis": null},
            "y": {"field": "p", "type": "quantitative", "scale": {"domain": [0, 6], "nice": false, "zero": false},
                  "axis": {"values": [0, 2, 4, 6], "labelAngle": -90, "labelAlign": "center", "labelBaseline": "bottom", "labelPadding": 8, "tickSize": 5, "labelFontSize": 9, "title": ["−log10(P)", "LOF DNMs"], "titleFontSize": 9.5, "titleAngle": -90, "titleX": -41, "titleY": 77, "titleAlign": "center", "titleBaseline": "bottom", "titleLineHeight": 12.5}},
            "color": {"field": "s", "type": "nominal", "scale": {"domain": ["d", "l"], "range": ["#b31b1e", "#cd5c5c"]}, "legend": null}
          }
        },
        {
          "data": {"name": "lof"},
          "transform": [{"filter": "datum.gene"}],
          "mark": {"type": "text", "align": "left", "baseline": "middle", "dx": 6, "fontWeight": "bold", "fontStyle": "italic", "fontSize": 10.5, "color": "#000"},
          "encoding": {
            "x": {"field": "pos", "type": "quantitative"},
            "y": {"field": "p", "type": "quantitative"},
            "text": {"field": "gene"}
          }
        }
      ]
    },
    {
      "width": 685,
      "height": 201,
      "layer": [
        {
          "data": {"name": "pa"},
          "mark": {"type": "circle", "size": 40, "opacity": 1, "clip": true},
          "encoding": {
            "x": {"field": "pos", "type": "quantitative", "scale": {"domain": [51, 736], "nice": false, "zero": false},
                  "axis": {"orient": "top", "values": [76,111,169,203,227,249,282,321,350,375,403,443,483,502,517,535,558,589,616,643,668,678,694,707], "domain": false, "labels": false, "tickSize": 4, "tickColor": "#333333", "title": null}},
            "y": {"field": "p", "type": "quantitative", "scale": {"domain": [0, 6], "nice": false, "zero": false, "reverse": true},
                  "axis": {"values": [0, 2, 4, 6], "labelExpr": "datum.value == 0 ? '' : datum.label", "labelAngle": -90, "labelAlign": "center", "labelBaseline": "bottom", "labelPadding": 8, "tickSize": 5, "labelFontSize": 9, "title": ["−log10(P)", "Protein−Altering DNMs"], "titleFontSize": 9.5, "titleAngle": -90, "titleX": -41, "titleY": 100, "titleAlign": "center", "titleBaseline": "bottom", "titleLineHeight": 12.5}},
            "color": {"field": "s", "type": "nominal", "scale": {"domain": ["d", "l"], "range": ["#6b1d70", "#b47fd0"]}, "legend": null}
          }
        },
        {
          "data": {"name": "threshold"},
          "mark": {"type": "rule", "strokeDash": [1, 3], "color": "#888888", "strokeWidth": 1},
          "encoding": {"y": {"field": "thr", "type": "quantitative"}}
        },
        {
          "data": {"name": "chrline"},
          "mark": {"type": "rule", "color": "#999999", "strokeWidth": 2},
          "encoding": {"x": {"field": "start", "type": "quantitative"}, "x2": {"field": "end"}, "y": {"field": "base", "type": "quantitative"}}
        },
        {
          "data": {"name": "chroms"},
          "mark": {"type": "text", "baseline": "bottom", "align": "center", "dy": -11, "fontSize": 8, "color": "#000"},
          "encoding": {"x": {"field": "mid", "type": "quantitative"}, "y": {"datum": 0}, "text": {"field": "chr"}}
        },
        {
          "data": {"name": "pa"},
          "transform": [{"filter": "datum.gene"}],
          "mark": {"type": "text", "align": "left", "baseline": "middle", "dx": 6, "fontWeight": "bold", "fontStyle": "italic", "fontSize": 10.5, "color": "#000"},
          "encoding": {
            "x": {"field": "pos", "type": "quantitative"},
            "y": {"field": "p", "type": "quantitative"},
            "text": {"field": "gene"}
          }
        }
      ]
    }
  ]
}
